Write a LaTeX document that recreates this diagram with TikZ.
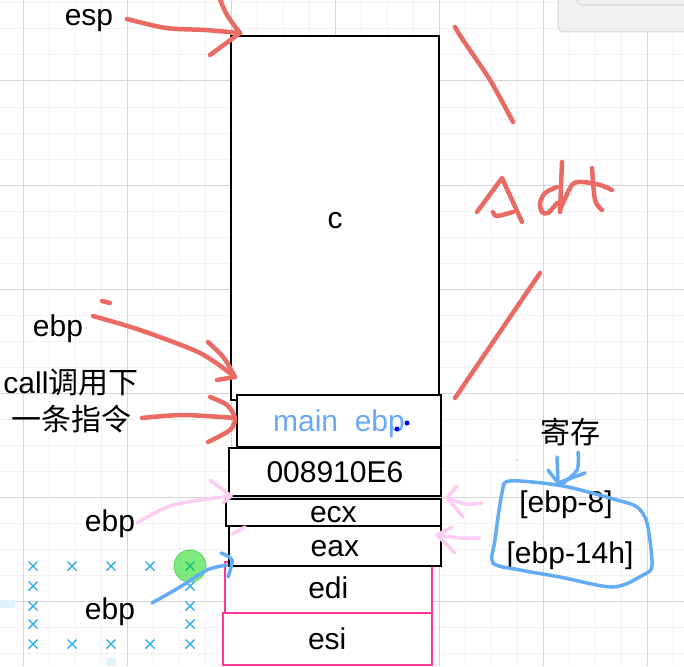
\documentclass[tikz,border=0pt]{standalone}
\usepackage{fontspec}
\setmainfont{Liberation Sans}
\newfontfamily\cjk{Noto Sans CJK SC}
\definecolor{gridminor}{RGB}{242,242,242}
\definecolor{gridmajor}{RGB}{214,214,214}
\definecolor{boxpink}{RGB}{255,55,150}
\definecolor{mainblue}{RGB}{108,168,250}
\definecolor{penred}{RGB}{234,106,100}
\definecolor{penpink}{RGB}{255,204,244}
\definecolor{penblue}{RGB}{100,172,243}
\definecolor{crossblue}{RGB}{45,172,232}
\definecolor{panelgray}{RGB}{240,241,243}

\begin{document}
\begin{tikzpicture}[x=1pt, y=-1pt,
			box/.style={rectangle, draw=black, line width=2pt, fill=white, inner sep=0pt, text height=21pt, text depth=0pt, font=\fontsize{30}{36}\selectfont},
			pinkbox/.style={box, draw=boxpink},
			txt/.style={inner sep=0pt, text height=21pt, text depth=0pt, font=\fontsize{30}{36}\selectfont},
			cjktxt/.style={inner sep=0pt, font=\fontsize{30}{37}\selectfont},
			redpen/.style={draw=penred, line width=4.5pt, line cap=round, line join=round},
			pinkpen/.style={draw=penpink, line width=3.5pt, line cap=round, line join=round},
			bluepen/.style={draw=penblue, line width=3.5pt, line cap=round, line join=round},
			cross/.style={draw=crossblue, line width=1.4pt}
			]
			
			\useasboundingbox (0,0) rectangle (684,666);
			\clip (0,0) rectangle (684,666);
			\fill[white] (0,0) rectangle (684,666);
			
			% grid
			\foreach \i in {0,...,27} \draw[gridminor, line width=1pt] ({-2.7+26*\i},0) -- ++(0,666);
			\foreach \j in {0,...,26} \draw[gridminor, line width=1pt] (0,{3+26*\j}) -- ++(684,0);
			\foreach \i in {0,...,6} \draw[gridmajor, line width=1pt] ({23.3+104*\i},0) -- ++(0,666);
			\foreach \j in {0,...,6} \draw[gridmajor, line width=1pt] (0,{-23+104*\j}) -- ++(684,0);
			
			\draw[draw=gridmajor, fill=panelgray, line width=1pt, rounded corners=6pt] (558,-10) rectangle (700,32);
			\draw[draw=gridmajor, line width=1pt, rounded corners=5pt] (577,-10) rectangle (700,5);
			
			\fill[crossblue!15] (0,600) rectangle (15,608);
			\fill[crossblue!15] (106,658) rectangle (116,666);
			
			% stack
			\node[box, minimum width=208pt, minimum height=364pt] (c) at (335,218) {c};
			\node[pinkbox, minimum width=206.7pt, minimum height=51.6pt] (edi) at (328.3,587.5) {edi};
			\node[pinkbox, minimum width=209pt, minimum height=51.7pt] (esi) at (327.2,639.2) {esi};
			\node[box, minimum width=203.4pt, minimum height=51.7pt, text=mainblue] (mainebp) at (339,420.8) {main~~ebp};
			\node[box, minimum width=211.7pt, minimum height=48pt] (ret) at (334.9,471.7) {008910E6};
			\node[box, minimum width=214.7pt, minimum height=26.7pt] (ecx) at (333.4,512.3) {ecx};
			\node[box, minimum width=211.7pt, minimum height=40pt] (eax) at (334.9,545.7) {eax};
			
			\fill[blue] (407,423) circle (2.5);
			\fill[blue] (397,429) circle (2.5);
			
			\node[txt] (esp) at (89,15.5) {esp};
			\node[txt] (ebptop) at (58,326) {ebp};
			\node[cjktxt, align=center] (call) at (71,401) {call{\cjk 调用下}\\{\cjk 一条指令}};
			\node[txt] (ebpmid) at (110,521) {ebp};
			\node[txt] (ebplow) at (110,609) {ebp};
			\node[cjktxt, font=\cjk\fontsize{30}{36}\selectfont] (reg) at (570,432) {寄存};
			\node[txt] (off8) at (566,501.5) {[ebp-8]};
			\node[txt] (off14) at (570,553.2) {[ebp-14h]};
			
			\coordinate (esptip) at (240,33);
			\coordinate (ebptip) at (235,377);
			\coordinate (calltip) at (235,418);
			\coordinate (ecxtip) at (231,496);
			\coordinate (editip) at (227,565);
			
			% red pen
			\draw[redpen] plot[smooth] coordinates {(127,19) (166,28) (205,30) (esptip)};
			\draw[redpen] (210,55) -- (esptip);
			\draw[redpen] plot[smooth] coordinates {(219,-3) (227,15) (esptip)};
			\draw[redpen] plot[smooth] coordinates {(455,27) (463,40) (490,80) (513,122)};
			\draw[redpen] (477,212) -- (502,178) -- (522,222);
			\draw[redpen] plot[smooth] coordinates {(493,212) (497,216) (513,212)};
			\draw[redpen] plot[smooth] coordinates {(557,187) (545,193) (540,203) (542,212) (548,213) (557,203)};
			\draw[redpen] (562,162) -- (560,212);
			\draw[redpen] plot[smooth] coordinates {(560,210) (572,185) (583,182) (600,185) (612,190)};
			\draw[redpen] plot[smooth] coordinates {(592,168) (595,200) (602,210)};
			\draw[redpen] (540,273) -- (455,398);
			\draw[redpen] (102,301) -- (110,303);
			\draw[redpen] plot[smooth] coordinates {(93,316) (140,330) (200,353) (ebptip)};
			\draw[redpen] plot[smooth] coordinates {(208,342) (224,358) (ebptip)};
			\draw[redpen] (217,380) -- (ebptip);
			\draw[redpen] plot[smooth] coordinates {(142,418) (183,415) (calltip)};
			\draw[redpen] plot[smooth] coordinates {(210,397) (227,405) (calltip) (230,430) (208,442)};
			
			% pink pen
			\draw[pinkpen] plot[smooth] coordinates {(137,523) (173,505) (ecxtip)};
			\draw[pinkpen] (210,480) -- (ecxtip) -- (223,503);
			\draw[pinkpen] (232,534) -- (245,527);
			\draw[pinkpen] (457,486) -- (447,498) -- (463,517);
			\draw[pinkpen] plot[smooth] coordinates {(447,498) (466,504) (482,503)};
			\draw[pinkpen] (452,527) -- (437,535) -- (455,553);
			\draw[pinkpen] plot[smooth] coordinates {(437,535) (460,538) (480,538)};
			\fill[penpink] (517,460) circle (1.5);
			
			% blue pen
			\foreach \px in {33,72,111,150,190} {
				\foreach \py in {566,644} {
					\draw[cross] (\px,\py) +(-4.5,-4.5) -- +(4.5,4.5) +(-4.5,4.5) -- +(4.5,-4.5);
				}
			}
			\foreach \px in {33,190} {
				\foreach \py in {586,606,624} {
					\draw[cross] (\px,\py) +(-4.5,-4.5) -- +(4.5,4.5) +(-4.5,4.5) -- +(4.5,-4.5);
				}
			}
			\draw[draw={rgb,255:red,70;green,205;blue,70}, draw opacity=0.7, fill={rgb,255:red,0;green,215;blue,0}, fill opacity=0.5, line width=1pt] (190,566) circle (16);
			\draw[bluepen] plot[smooth] coordinates {(152,603) (180,587) (207,570) (editip)};
			\draw[bluepen] plot[smooth] coordinates {(221,553) (232,560) (228,577)};
			\draw[bluepen] (557,457) -- (558,483);
			\draw[bluepen] (548,470) -- (558,483) -- (585,473);
			\draw[bluepen] plot[smooth] coordinates {(578,452) (577,470) (562,484)};
			\draw[bluepen] plot[smooth cycle] coordinates {(510,481) (563,486) (617,500) (637,507) (647,523) (652,565) (643,575) (613,587) (560,577) (520,570) (493,563) (495,540) (502,493)};
		\end{tikzpicture}
\end{document}
